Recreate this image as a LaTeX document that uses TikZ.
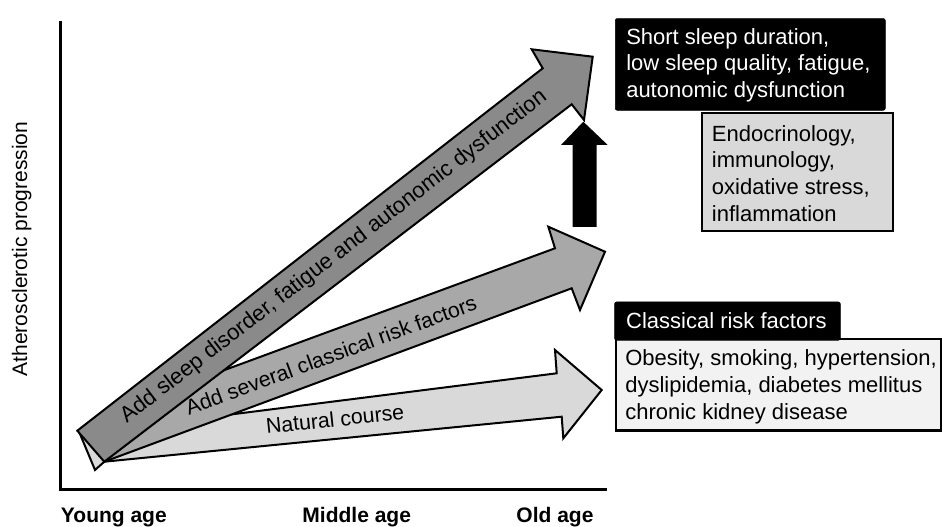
\documentclass[tikz,border=0pt]{standalone}
\usepackage{fontspec}
\setmainfont{Liberation Sans}
\definecolor{arrowdark}{gray}{0.54}
\definecolor{arrowmid}{gray}{0.66}
\definecolor{arrowlight}{gray}{0.85}
\definecolor{boxgray}{gray}{0.85}
\definecolor{boxlight}{gray}{0.95}
\begin{document}
\begin{tikzpicture}[x=0.75pt,y=-0.75pt, line join=miter,
  arrowshape/.style={draw=black, line width=1.5pt, line join=miter},
  arrowtext/.style={font=\fontsize{16}{19}\selectfont, inner sep=0pt},
  axislabel/.style={font=\bfseries\fontsize{15.75}{19}\selectfont, inner sep=0pt},
  blackbox/.style={fill=black, draw=black, rounded corners=1.5pt, inner sep=0pt},
  framebox/.style={draw=black, line width=1.8pt, inner sep=0pt},
  boxtext/.style={font=\fontsize{16.5}{20}\selectfont, align=left, inner sep=0pt}]

\useasboundingbox (0,0) rectangle (942,527);

% axes
\coordinate (ytop) at (60.7,20.7);
\coordinate (orig) at (60.7,489.3);
\coordinate (xend) at (606.7,489.3);
\draw[line width=2pt] (ytop) -- (orig) -- (xend);

% bottom arrow (natural course)
\draw[arrowshape, fill=arrowlight] (80,434) -- (95,470) -- (104.3,461.7) -- (561.7,416.7) -- (563.3,438.3) -- (601.7,390) -- (555,350) -- (556.7,373.3) -- (100,431) -- cycle;
% middle arrow
\draw[arrowshape, fill=arrowmid] (97,417) -- (104.3,461.7) -- (571.7,288.3) -- (580,310) -- (605,251.7) -- (548.3,226.7) -- (555,248.3) -- cycle;
% top arrow
\draw[arrowshape, fill=arrowdark] (77.3,430.7) -- (104.3,461.7) -- (571.7,104.3) -- (584,120) -- (592.7,56.7) -- (531.7,49.3) -- (542.7,68.3) -- cycle;
% black up arrow
\fill[black] (583.3,121.7) -- (607.7,145) -- (596.7,145) -- (596.7,227) -- (572.7,227) -- (572.7,145) -- (561,145) -- cycle;

% arrow texts
\node[arrowtext, font=\fontsize{16.6}{19}\selectfont, rotate=37.6] (t1) at (334,257) {Add sleep disorder, fatigue and autonomic dysfunction};
\node[arrowtext, rotate=20.2] (t2) at (331,355) {Add several classical risk factors};
\node[arrowtext, rotate=6] (t3) at (335,419) {Natural course};

% axis labels
\node[font=\fontsize{15.75}{19}\selectfont, rotate=90, inner sep=0pt] (ylab) at (21.7,249) {Atherosclerotic progression};
\node[axislabel, anchor=base west] (young) at (60.7,522) {Young age};
\node[axislabel, anchor=base] (middle) at (356.7,522) {Middle age};
\node[axislabel, anchor=base] (old) at (555,522) {Old age};

% boxes
\node[blackbox, anchor=north west, minimum width=202.5pt, minimum height=68.8pt] (sleepbox) at (615,18.3) {};
\node[boxtext, text=white, anchor=west] (sleeptext) at ([xshift=8.25pt, yshift=-0.6pt]sleepbox.west) {Short sleep duration,\\low sleep quality, fatigue,\\autonomic dysfunction};

\node[framebox, fill=boxgray, anchor=north west, minimum width=143.25pt, minimum height=88.7pt] (endobox) at (700.7,111.7) {};
\node[boxtext, anchor=west] (endotext) at ([xshift=8.25pt, yshift=-1pt]endobox.west) {Endocrinology,\\immunology,\\oxidative stress,\\inflammation};

\node[framebox, fill=boxlight, anchor=north west, minimum width=243.75pt, minimum height=68.5pt] (classbox) at (615,338) {};
\node[blackbox, anchor=north west, minimum width=169.3pt, minimum height=28.7pt] (classlabel) at (614.3,301.7) {};
\node[boxtext, text=white, anchor=west] (classlabeltext) at ([xshift=8.7pt]classlabel.west) {Classical risk factors};
\node[boxtext, anchor=west] (classtext) at ([xshift=7.5pt, yshift=-1.5pt]classbox.west) {Obesity, smoking, hypertension,\\dyslipidemia, diabetes mellitus\\chronic kidney disease};
\end{tikzpicture}
\end{document}
